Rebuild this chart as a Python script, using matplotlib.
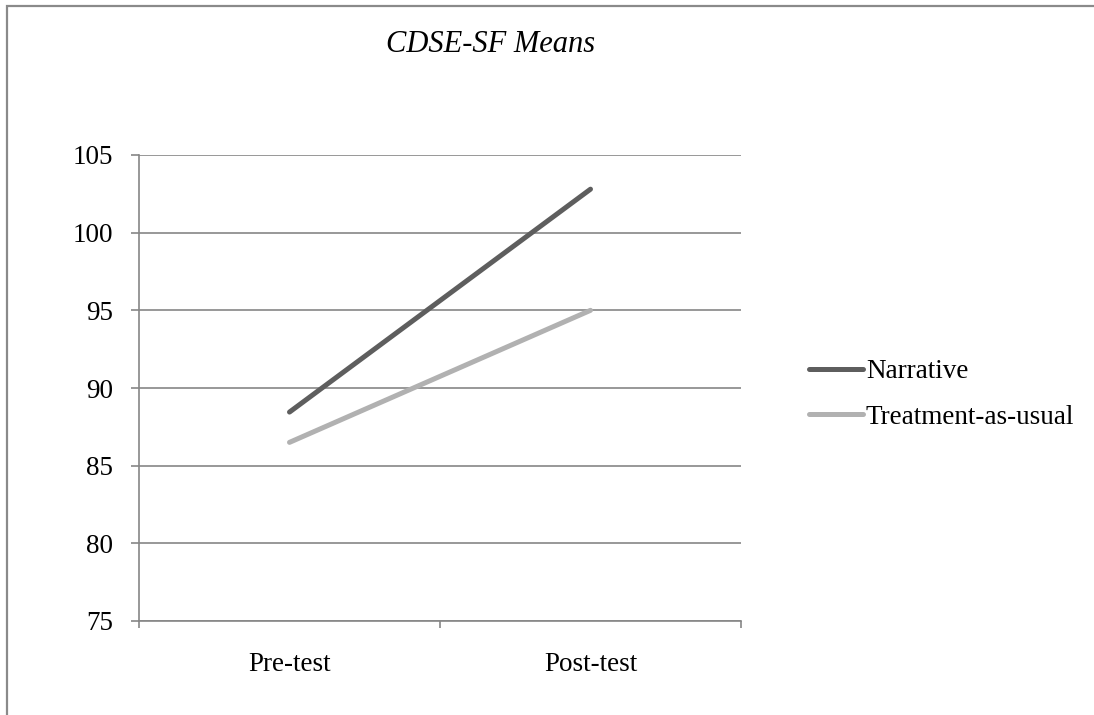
import matplotlib
matplotlib.use("Agg")
import matplotlib.pyplot as plt
from matplotlib.patches import Rectangle

categories = ["Pre-test", "Post-test"]
narrative = [88.45, 102.8]
tau = [86.5, 95.0]
series_names = ["Narrative", "Treatment-as-usual"]
yticks = [75, 80, 85, 90, 95, 100, 105]

plt.rcParams['font.family'] = ['Liberation Serif', 'DejaVu Serif']

W, H = 1094, 715
fig = plt.figure(figsize=(W/100, H/100), dpi=100)

# outer border (only top and left visible)
fig.patches.append(Rectangle((7/W, -0.1), 1.2, 1 - 6/H + 0.1, transform=fig.transFigure,
                             fill=False, edgecolor='#8a8a8a', linewidth=1.6))

ax = fig.add_axes([139/W, 1 - 621/H, (741-139)/W, (621-155)/H])
x = [0.5, 1.5]
ax.plot(x, narrative, color='#5e5e5e', linewidth=3.6, solid_capstyle='round', label=series_names[0])
ax.plot(x, tau, color='#b1b1b1', linewidth=3.6, solid_capstyle='round', label=series_names[1])

FS = 19.5
ax.set_xlim(0, 2)
ax.set_ylim(75, 105)
ax.set_yticks(yticks)
ax.set_yticklabels([str(v) for v in yticks], fontsize=FS)
ax.set_xticks([0, 1, 2])
ax.set_xticklabels([])
ax.set_xticks(x, minor=True)
ax.set_xticklabels(categories, minor=True, fontsize=FS)
ax.tick_params(axis='x', which='minor', length=0, pad=22)
ax.tick_params(axis='x', which='major', length=5, color='#868686', width=1.2, direction='out')
ax.tick_params(axis='y', length=5.8, color='#868686', width=1.2, pad=13)
ax.grid(axis='y', color='#868686', linewidth=1.2)
ax.set_axisbelow(True)
for s in ['top', 'right']:
    ax.spines[s].set_visible(False)
for s in ['left', 'bottom']:
    ax.spines[s].set_color('#868686')
    ax.spines[s].set_linewidth(1.2)

fig.text(491/W, 1 - 45/H, "CDSE-SF Means", fontsize=22, style='italic', ha='center', va='center')

leg = fig.legend(loc='center left', bbox_to_anchor=(809/W, 1 - 394.5/H), frameon=False,
                 fontsize=FS, handlelength=1.98, handletextpad=0.12, labelspacing=0.75,
                 borderaxespad=0, borderpad=0)

fig.savefig("out.png", dpi=100)
